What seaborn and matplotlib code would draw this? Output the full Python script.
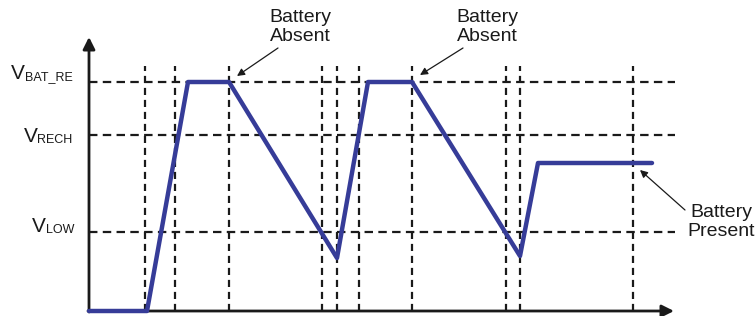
import pandas as pd
import matplotlib
matplotlib.use('Agg')
import matplotlib.pyplot as plt
import seaborn as sns

#voltage waveform (time in arbitrary units, voltage in arbitrary units)
wave_t = [0, 5.8, 9.9, 14.0, 24.8, 27.9, 32.3, 43.1, 44.9, 56.3]
wave_v = [0, 0, 22.9, 22.9, 5.3, 22.9, 22.9, 5.5, 14.8, 14.8]
#dashed time markers
t_marks = [5.6, 8.6, 14.0, 23.3, 24.8, 27.0, 32.3, 41.7, 43.1, 54.4]
#threshold levels and their labels
levels = [22.9, 17.6, 7.9]
level_names = ['BAT_RE', 'RECH', 'LOW']
label_v = [22.83, 16.5, 7.5]
label_t = [-1.63, -1.63, -1.5]
#annotations: text, text position, arrow tail, arrow head
notes = ['Battery\nAbsent', 'Battery\nAbsent', 'Battery\nPresent']
note_xy = [(21.1, 28.4), (39.8, 28.4), (63.2, 8.9)]
arrow_tail = [(18.9, 26.3), (37.4, 26.3), (59.6, 10.1)]
arrow_head = [(14.8, 23.5), (33.1, 23.6), (55.1, 14.1)]

sns.set_style('white')
plt.rcParams['font.family'] = ['Liberation Sans', 'DejaVu Sans']

fig = plt.figure(figsize=(7.56, 3.16), dpi=100)
ax = fig.add_axes([0, 0, 1, 1])

dark = '#1a1a1a'
#grid of dashed markers
for lv in levels:
    ax.plot([0, 58.6], [lv, lv], color=dark, lw=1.6, dashes=(3.8, 2.4), zorder=1)
for t in t_marks:
    ax.plot([t, t], [0, 24.5], color=dark, lw=1.6, dashes=(3.2, 2.2), zorder=1)

#axes with arrow heads
ax.annotate('', xy=(0, 27.4), xytext=(0, -0.1),
            arrowprops=dict(arrowstyle='-|>', lw=2, color=dark, mutation_scale=18, shrinkA=0, shrinkB=0))
ax.annotate('', xy=(58.5, 0), xytext=(-0.1, 0),
            arrowprops=dict(arrowstyle='-|>', lw=2, color=dark, mutation_scale=18, shrinkA=0, shrinkB=0))

#the waveform
df = pd.DataFrame({'t': wave_t, 'v': wave_v})
sns.lineplot(data=df, x='t', y='v', sort=False, color='#363C98', lw=3.2, ax=ax, zorder=3)
ax.axis('off')
ax.set_xlim(-8.9, 66.7)
ax.set_ylim(-0.5, 31.1)

#V labels: big V followed by a subscript
for name, tx, vy in zip(level_names, label_t, label_v):
    sub = ax.text(tx, vy, name, ha='right', va='bottom', fontsize=9, color=dark)
    ax.annotate('V', xy=(0, 0), xycoords=sub, ha='right', va='bottom', fontsize=15, color=dark)

for txt, xy, tail, head in zip(notes, note_xy, arrow_tail, arrow_head):
    ax.text(xy[0], xy[1], txt, ha='center', va='center', fontsize=14, color=dark, linespacing=1.1)
    ax.annotate('', xy=head, xytext=tail,
                arrowprops=dict(arrowstyle='-|>', lw=0.9, color=dark, mutation_scale=11, shrinkA=0, shrinkB=0))

plt.savefig('out.png', dpi=100)
